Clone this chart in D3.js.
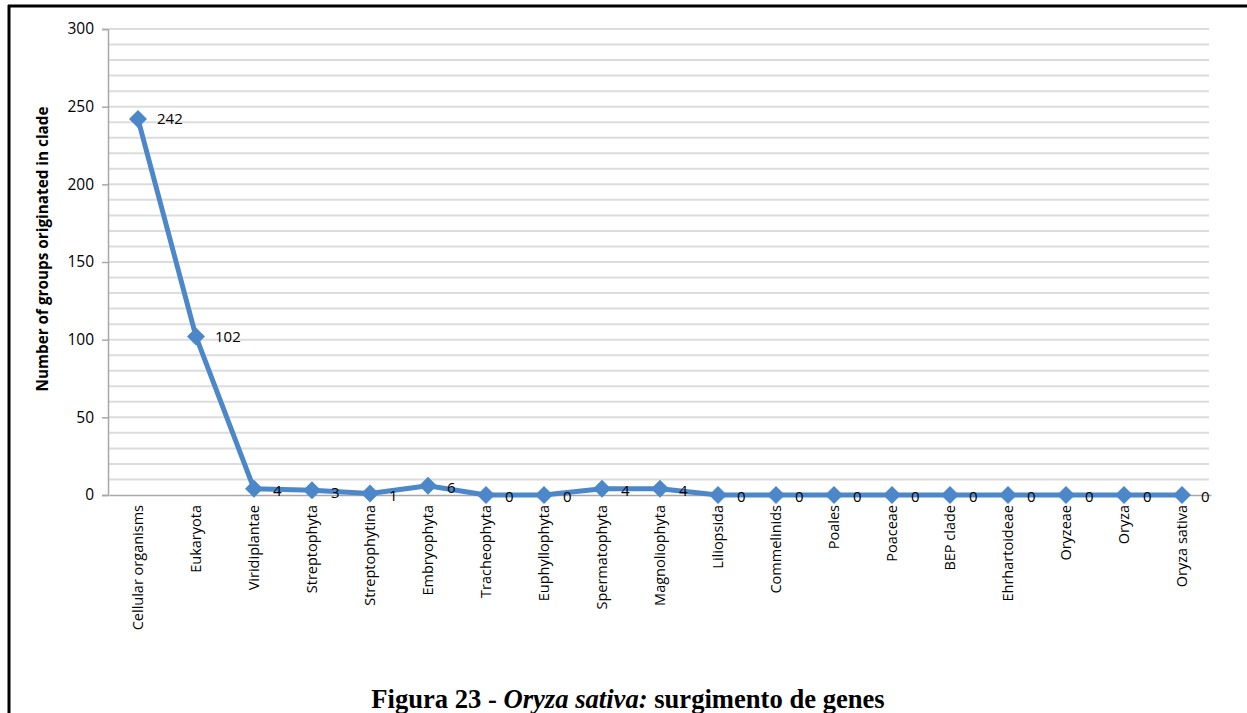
<!DOCTYPE html>
<html>
<head>
<meta charset="utf-8">
<script src="https://cdn.jsdelivr.net/npm/d3@7"></script>
<style>
  html, body { margin: 0; padding: 0; background: #fff; }
  svg { display: block; }
</style>
</head>
<body>
<svg id="chart" width="1247" height="713"></svg>
<script>
// Clades along the rice lineage, from the root to the species
const clades = [
  "Cellular organisms", "Eukaryota", "Viridiplantae", "Streptophyta",
  "Streptophytina", "Embryophyta", "Tracheophyta", "Euphyllophyta",
  "Spermatophyta", "Magnoliophyta", "Liliopsida", "Commelinids",
  "Poales", "Poaceae", "BEP clade", "Ehrhartoideae", "Oryzeae",
  "Oryza", "Oryza sativa"
];
// Number of gene groups that originated in each clade
const groupCounts = [242, 102, 4, 3, 1, 6, 0, 0, 4, 4, 0, 0, 0, 0, 0, 0, 0, 0, 0];
const yTicks = [0, 50, 100, 150, 200, 250, 300];

const svg = d3.select("#chart");
const font = "'Open Sans', 'Liberation Sans', sans-serif";

// Page frame (left and top rules)
svg.append("line").attr("x1", 9).attr("x2", 9).attr("y1", 5).attr("y2", 713)
  .attr("stroke", "#000").attr("stroke-width", 3);
svg.append("line").attr("x1", 8).attr("x2", 1247).attr("y1", 6).attr("y2", 6)
  .attr("stroke", "#000").attr("stroke-width", 3);

const plot = { left: 109, right: 1211, top: 29, bottom: 495 };

const x = d3.scaleBand().domain(clades).range([plot.left, plot.right]);
const y = d3.scaleLinear().domain([0, 300]).range([plot.bottom, plot.top]);

// Minor gridlines every 10
const grid = svg.append("g");
grid.selectAll("line").data(d3.range(10, 301, 10)).join("line")
  .attr("x1", plot.left).attr("x2", plot.right - 2)
  .attr("y1", d => y(d)).attr("y2", d => y(d))
  .attr("stroke", "#dcdcdc").attr("stroke-width", 2);

// Y axis
const yAxis = svg.append("g").attr("transform", `translate(${plot.left - 1},0)`)
  .call(d3.axisLeft(y).tickValues(yTicks).tickSize(6).tickPadding(8));
yAxis.select(".domain").attr("stroke", "#a8a8a8").attr("stroke-width", 1.5);
yAxis.selectAll(".tick line").attr("stroke", "#a8a8a8").attr("stroke-width", 1.5);
yAxis.selectAll(".tick text").attr("font-family", font).attr("font-size", 15.5)
  .attr("fill", "#000");

// X axis
const xAxis = svg.append("g").attr("transform", `translate(0,${plot.bottom})`)
  .call(d3.axisBottom(x).tickSize(0).tickPadding(0));
xAxis.select(".domain").attr("stroke", "#a8a8a8").attr("stroke-width", 1.5);
xAxis.selectAll(".tick text")
  .attr("font-family", font).attr("font-size", 14.5).attr("fill", "#000")
  .attr("transform", "rotate(-90)")
  .attr("text-anchor", "end")
  .attr("x", -10).attr("y", 0).attr("dy", "0.35em");

// Y axis title
svg.append("text")
  .attr("transform", `translate(48,249) rotate(-90)`)
  .attr("text-anchor", "middle")
  .attr("font-family", font).attr("font-weight", "bold").attr("font-size", 15.3)
  .attr("fill", "#000")
  .text("Number of groups originated in clade");

// Series line
const cx = d => x(d) + x.bandwidth() / 2;
const pts = clades.map((c, i) => ({ c, v: groupCounts[i] }));
svg.append("path").datum(pts)
  .attr("fill", "none").attr("stroke", "#4c88c9").attr("stroke-width", 5)
  .attr("stroke-linejoin", "round")
  .attr("d", d3.line().x(d => cx(d.c)).y(d => y(d.v)));

// Diamond markers
svg.append("g").selectAll("path").data(pts).join("path")
  .attr("transform", d => `translate(${cx(d.c)},${y(d.v)})`)
  .attr("d", "M0,-9L9,0L0,9L-9,0Z")
  .attr("fill", "#4c88c9");

// Value labels
svg.append("g").selectAll("text").data(pts).join("text")
  .attr("x", d => cx(d.c) + 19)
  .attr("y", d => y(d.v) + (d.v < 10 ? 2 : 0))
  .attr("dy", "0.35em")
  .attr("font-family", font).attr("font-size", 15).attr("fill", "#000")
  .text(d => d.v);

// Caption
const cap = svg.append("text")
  .attr("x", 628).attr("y", 708).attr("text-anchor", "middle")
  .attr("font-family", "'Liberation Serif', 'Times New Roman', serif")
  .attr("font-weight", "bold").attr("font-size", 26.6).attr("fill", "#000");
cap.append("tspan").text("Figura 23 - ");
cap.append("tspan").attr("font-style", "italic").text("Oryza sativa:");
cap.append("tspan").text(" surgimento de genes");
</script>
</body>
</html>
